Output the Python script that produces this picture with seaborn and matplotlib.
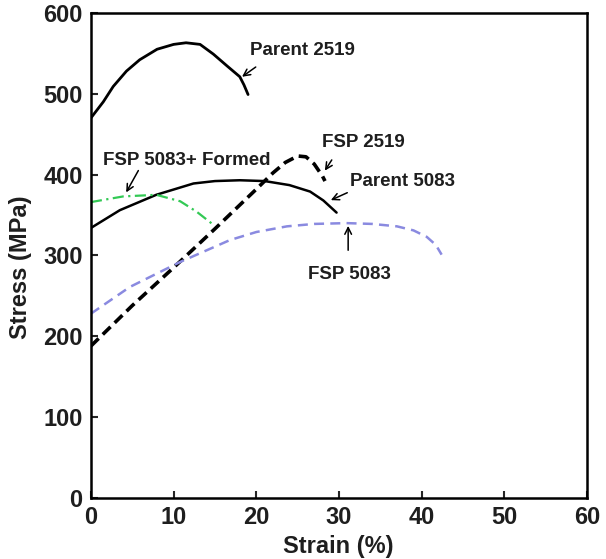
import matplotlib
matplotlib.use("Agg")
import matplotlib.pyplot as plt
import seaborn as sns
import pandas as pd

# curves (strain %, stress MPa)
parent2519_x = [0, 1.5, 2.7, 4.3, 5.9, 8.0, 10.0, 11.5, 13.2, 14.8, 16.5, 18.0, 18.5, 19.0]
parent2519_y = [470, 490, 509, 528, 542, 555, 561, 563, 561, 549, 534, 521, 511, 499]

parent5083_x = [0, 3.5, 7.9, 12.4, 15.0, 18.0, 21.0, 24.0, 26.5, 28.1, 29.7]
parent5083_y = [334, 356, 375, 389, 392, 393, 392, 387, 379, 368, 353]

fsp2519_x = [0, 5, 10, 15, 20, 22, 23.5, 25, 26, 27, 28, 28.3]
fsp2519_y = [188, 238, 285, 333, 382, 402, 415, 423, 422, 413, 398, 392]

fsp5083_x = [0, 4.7, 10.8, 16.8, 20.0, 23.7, 27.0, 30.9, 34.0, 37.0, 39.0, 40.6, 41.7, 42.4]
fsp5083_y = [228, 261, 292, 319, 329, 336, 339, 340, 339, 336, 331, 323, 313, 301]

formed_x = [0, 3.9, 7.9, 10.8, 12.8, 14.8]
formed_y = [366, 373, 375, 367, 354, 338]

sns.set_theme(style="ticks")
plt.rcParams['font.family'] = ['Liberation Sans', 'DejaVu Sans']
plt.rcParams['font.weight'] = 'bold'
ink = "#1e1e1e"

fig = plt.figure(figsize=(6.06, 5.59), dpi=100)
ax = fig.add_axes([0.150, 0.109, 0.819, 0.868])

curves = [
    (parent2519_x, parent2519_y, "black", "-", 2.0),
    (parent5083_x, parent5083_y, "black", "-", 1.8),
    (fsp2519_x, fsp2519_y, "black", (0, (3, 1.6)), 2.6),
    (fsp5083_x, fsp5083_y, "#8a8ae0", (0, (4, 2.5)), 1.8),
    (formed_x, formed_y, "#33c955", (0, (5, 2, 1, 2)), 1.6),
]
for xs, ys, col, ls, lw in curves:
    df = pd.DataFrame({"strain": xs, "stress": ys})
    sns.lineplot(data=df, x="strain", y="stress", ax=ax, color=col,
                 linestyle=ls, linewidth=lw, sort=False, estimator=None)

ax.set_xlim(0, 60)
ax.set_ylim(0, 600)
ax.set_xticks(range(0, 61, 10))
ax.set_yticks(range(0, 601, 100))
ax.tick_params(direction="in", length=5, width=1.5, labelsize=17,
               top=False, right=False, labelcolor=ink)
ax.tick_params(axis="y", pad=6)
ax.tick_params(axis="x", pad=6)
for lab in ax.get_xticklabels() + ax.get_yticklabels():
    lab.set_fontweight("bold")
for s in ax.spines.values():
    s.set_linewidth(1.8)
    s.set_color("black")
ax.set_xlabel("Strain (%)", fontsize=17, fontweight="bold", color=ink)
ax.set_ylabel("Stress (MPa)", fontsize=17, fontweight="bold", color=ink)
ax.xaxis.set_label_coords(0.498, -0.076)
ax.yaxis.set_label_coords(-0.119, 0.476)

arrow = dict(arrowstyle="->", color="black", lw=1.1)
notes = [
    ("Parent 2519", (19.2, 553), (20.2, 535), (18.0, 519)),
    ("FSP 2519", (27.9, 440), (29.3, 421), (28.1, 402)),
    ("Parent 5083", (31.3, 391), (31.3, 379), (28.7, 367)),
    ("FSP 5083", (26.2, 277), (31.1, 303), (31.1, 340)),
    ("FSP 5083+ Formed", (1.5, 418), (5.9, 408), (4.1, 375)),
]
for txt, pos, tail, head in notes:
    ax.text(pos[0], pos[1], txt, fontsize=13.5, fontweight="bold",
            ha="left", va="center", color=ink)
    ax.annotate("", xy=head, xytext=tail, arrowprops=arrow)

fig.savefig("out.png", dpi=100)
